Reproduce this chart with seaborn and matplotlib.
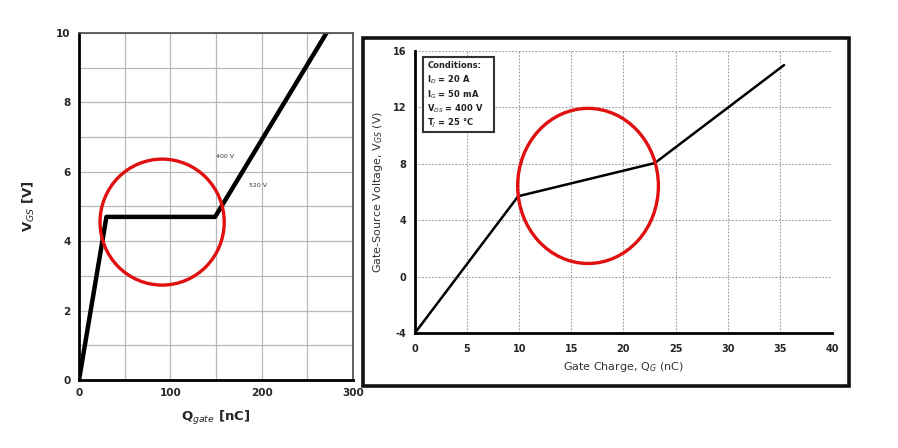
import matplotlib
matplotlib.use("Agg")
import matplotlib.pyplot as plt
from matplotlib.patches import Ellipse, Rectangle
import seaborn as sns
import pandas as pd

# ---- data ----
left_q = [0, 30, 149, 271]          # Qgate [nC]
left_v = [0, 4.7, 4.7, 10]          # VGS [V]
left_xticks = [0, 100, 200, 300]
left_yticks = [0, 2, 4, 6, 8, 10]
left_labels = ["400 V", "520 V"]
left_label_x = [160, 196]
left_label_y = [6.45, 5.6]

right_q = [0, 9.9, 23.0, 35.4]      # Gate charge [nC]
right_v = [-4, 5.7, 8.05, 15.0]     # Gate-source voltage [V]
right_xticks = [0, 5, 10, 15, 20, 25, 30, 35, 40]
right_yticks = [-4, 0, 4, 8, 12, 16]
conditions = ["Conditions:", "I$_{D}$ = 20 A", "I$_{G}$ = 50 mA",
              "V$_{DS}$ = 400 V", "T$_{J}$ = 25 °C"]

sns.set_style("white")
plt.rcParams["font.family"] = ["DejaVu Sans"]
plt.rcParams["axes.unicode_minus"] = False

fig = plt.figure(figsize=(8.98, 4.48), dpi=100)

# ---------------- left panel ----------------
axL = fig.add_axes([0.088, 0.1518, 0.3051, 0.7746])
dfL = pd.DataFrame({"q": left_q, "v": left_v})
sns.lineplot(data=dfL, x="q", y="v", ax=axL, color="black", lw=3.2, sort=False)
axL.set_xlim(0, 300)
axL.set_ylim(0, 10)
axL.set_xticks(left_xticks)
axL.set_xticks(range(0, 301, 50), minor=True)
axL.set_yticks(left_yticks)
axL.set_yticks(range(0, 11), minor=True)
axL.grid(True, which="both", color="#b8b8b8", lw=0.9)
axL.set_axisbelow(True)
for s in ["left", "bottom"]:
    axL.spines[s].set_color("black")
    axL.spines[s].set_linewidth(2.0)
for s in ["top", "right"]:
    axL.spines[s].set_color("#555555")
    axL.spines[s].set_linewidth(1.3)
axL.tick_params(axis="both", which="both", length=0, labelsize=7.5, pad=6)
for t in axL.get_xticklabels() + axL.get_yticklabels():
    t.set_fontweight("bold")
axL.set_xlabel("Q$_{gate}$ [nC]", fontsize=9.5, fontweight="bold", labelpad=8)
axL.set_ylabel("V$_{GS}$ [V]", fontsize=9.5, fontweight="bold", labelpad=14)
for lab, x, y in zip(left_labels, left_label_x, left_label_y):
    axL.text(x, y, lab, fontsize=4.5, color="#333333", ha="center", va="center")
axL.add_patch(Ellipse((91, 4.55), 136, 3.63, fill=False, ec="#e01010", lw=2.4, zorder=5))

# ---------------- right panel ----------------
fig.patches.append(Rectangle((0.4042, 0.1384), 0.5412, 0.7768, transform=fig.transFigure,
                             fill=False, ec="#111111", lw=2.6))
axR = fig.add_axes([0.4621, 0.2567, 0.4644, 0.6295])
dfR = pd.DataFrame({"q": right_q, "v": right_v})
sns.lineplot(data=dfR, x="q", y="v", ax=axR, color="black", lw=1.8, sort=False)
axR.set_xlim(0, 40)
axR.set_ylim(-4, 16)
axR.set_xticks(right_xticks)
axR.set_yticks(right_yticks)
axR.grid(True, color="#9a9a9a", lw=0.8, ls=(0, (1.5, 1.5)))
axR.set_axisbelow(True)
for s in ["left", "bottom"]:
    axR.spines[s].set_color("black")
    axR.spines[s].set_linewidth(2.0)
for s in ["top", "right"]:
    axR.spines[s].set_visible(False)
axR.tick_params(axis="x", which="both", direction="in", length=3, width=1, labelsize=7, pad=8)
axR.tick_params(axis="y", which="both", direction="out", length=3, width=1, labelsize=7, pad=3)
for t in axR.get_xticklabels() + axR.get_yticklabels():
    t.set_fontweight("bold")
axR.set_xlabel("Gate Charge, Q$_{G}$ (nC)", fontsize=8, labelpad=4, color="#333333")
axR.set_ylabel("Gate-Source Voltage, V$_{GS}$ (V)", fontsize=8, labelpad=6, color="#333333")
# conditions box
axR.add_patch(Rectangle((0.019, 0.713), 0.17, 0.266, transform=axR.transAxes,
                        fc="white", ec="#333333", lw=1.5, zorder=4))
for i, line in enumerate(conditions):
    axR.text(0.03, 0.948 - i * 0.051, line, transform=axR.transAxes, fontsize=6,
             fontweight="bold", va="center", ha="left", color="#222222", zorder=6)
axR.add_patch(Ellipse((16.6, 6.43), 13.5, 11.0, fill=False, ec="#e01010", lw=2.4, zorder=5))

fig.savefig("out.png", dpi=100)
